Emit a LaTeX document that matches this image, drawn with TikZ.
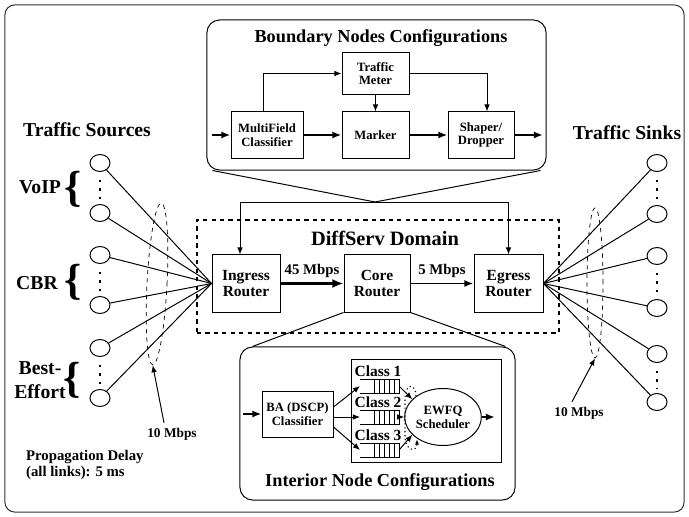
\documentclass[tikz,border=0pt]{standalone}
\usepackage{fontspec}
\setmainfont{Liberation Serif}
\usetikzlibrary{arrows.meta,shapes.geometric}

\tikzset{
  box/.style={draw, align=center, inner sep=0pt, font=\fontsize{9}{9.5}\selectfont\bfseries},
  router/.style={draw, align=center, inner sep=0pt, minimum width=1.7cm, minimum height=1.425cm,
    font=\fontsize{11}{12}\selectfont\bfseries},
  heading/.style={font=\fontsize{13}{15}\selectfont\bfseries},
  group/.style={font=\fontsize{14}{15}\selectfont\bfseries, align=center},
  curly/.style={font=\fontsize{31}{31}\selectfont\bfseries, inner sep=0pt},
  host/.style={draw, ellipse, inner sep=0pt, minimum width=0.5cm, minimum height=0.425cm},
  rate/.style={font=\fontsize{9.5}{11}\selectfont\bfseries},
  flow/.style={-{Latex[length=6.5pt,width=5pt]}, line width=1.3pt},
  bundle/.style={draw, dashed, ellipse, line width=0.5pt},
  vdots/.style={line width=1.6pt, dash pattern=on 1.6pt off 4.4pt},
}

\begin{document}
\begin{tikzpicture}[x=0.025cm, y=-0.025cm, line width=0.7pt, >={Latex[length=5pt,width=4pt]}]
  \useasboundingbox (0,0) rectangle (689,517);
  \node[draw=black!80, rounded corners=7pt, minimum width=16.975cm, minimum height=12.675cm] (frame) at (344.5,258.5) {};

  % boundary nodes
  \node[draw, rounded corners=9pt, minimum width=8.475cm, minimum height=3.75cm] (bnd) at (376.5,95) {};
  \node[heading] (bndtitle) at (381,38) {Boundary Nodes Configurations};
  \node[box, minimum width=1.675cm, minimum height=1.025cm] (meter) at (375.5,73.5) {Traffic\\Meter};
  \node[box, minimum width=1.8cm, minimum height=1.15cm] (mfc) at (267,135) {MultiField\\Classifier};
  \node[box, minimum width=1.675cm, minimum height=1.15cm] (marker) at (375.5,135) {Marker};
  \node[box, minimum width=1.65cm, minimum height=1.15cm] (shaper) at (481,135) {Shaper/\\Dropper};
  \coordinate (bin) at (212,135);
  \coordinate (bout) at (543,135);
  \draw[flow] (bin) -- (mfc);
  \draw[flow] (mfc) -- (marker);
  \draw[flow] (marker) -- (shaper);
  \draw[flow] (shaper) -- (bout);
  \draw[->] ([xshift=-0.1cm]mfc.north) |- (meter.west);
  \draw[->] (meter.east) -| ([xshift=0.15cm]shaper.north);
  \draw[->] (meter) -- (marker);

  % diffserv domain
  \node[draw, dashed, line width=1pt, minimum width=9.05cm, minimum height=2.825cm] (domain) at (378,276.5) {};
  \node[font=\fontsize{14.5}{16}\selectfont\bfseries] (domtitle) at (385,238) {DiffServ Domain};
  \node[router] (ingress) at (246,283.5) {Ingress\\Router};
  \node[router, minimum width=1.65cm] (core) at (377,283.5) {Core\\Router};
  \node[router, minimum width=1.725cm] (egress) at (508.5,283.5) {Egress\\Router};
  \draw[-{Latex[length=8pt,width=6.5pt]}, line width=2.2pt] (ingress) -- node[above, font=\fontsize{10.5}{12}\selectfont\bfseries] {45 Mbps} (core);
  \draw[flow] (core) -- node[above, font=\fontsize{10.5}{12}\selectfont\bfseries] {5 Mbps} (egress);

  \coordinate (bapex) at (375,202);
  \draw ([xshift=0.15cm]bnd.south west) -- (bapex) -- ([xshift=-0.15cm]bnd.south east);
  \draw[->] (bapex) -| ([xshift=-0.15cm]ingress.north);
  \draw[->] (bapex) -| (egress.north);

  % interior node
  \node[draw, rounded corners=9pt, minimum width=6.875cm, minimum height=3.825cm] (intr) at (377.5,423.5) {};
  \node[draw, minimum width=3.725cm, minimum height=2.55cm] (sched) at (426.5,411) {};
  \node[heading] (intrtitle) at (380,482) {Interior Node Configurations};
  \draw (core.south west) -- ([xshift=0.325cm]intr.north west);
  \draw (core.south east) -- ([xshift=-0.25cm]intr.north east);

  \node[box, minimum width=1.775cm, minimum height=1.15cm] (ba) at (297.5,414) {BA (DSCP)\\Classifier};
  \coordinate (iin) at (243,414);
  \draw[flow] (iin) -- (ba);

  \foreach \n/\c in {1/386,2/417,3/450} {
    \draw (360,\c-7) -- (399,\c-7) -- (399,\c+7) -- (360,\c+7);
    \foreach \b in {374,379,384,389,394}
      \draw (\b,\c-7) -- (\b,\c+7);
    \node[font=\fontsize{11}{12}\selectfont\bfseries] (cls\n) at (378,\c-15) {Class \n};
    \coordinate (qin\n) at (360,\c);
    \coordinate (qout\n) at (399,\c);
  }
  \node[draw, ellipse, inner sep=0pt, minimum width=1.55cm, minimum height=1.425cm, align=center,
    font=\fontsize{9}{10}\selectfont\bfseries] (ewfq) at (443,417) {EWFQ\\Scheduler};
  \draw[->] ([yshift=0.175cm]ba.east) -- (qin1);
  \draw[->] (ba.east |- qin2) -- (qin2);
  \draw[->] ([yshift=-0.325cm]ba.east) -- (qin3);
  \draw[->] (qout1) -- (ewfq.150);
  \draw[->] (qout2) -- (ewfq.west);
  \draw[->] (qout3) -- (ewfq.210);
  \draw[dotted, line width=0.8pt, -{Latex[length=4pt,width=3pt]}] (416,396) .. controls (416,383) and (405,383) .. (405,398)
    -- (405,436) .. controls (405,452) and (417,452) .. (417,439);
  \coordinate (iout) at (495,417);
  \draw[flow] (ewfq) -- (iout);

  % sources
  \node[group] (srctitle) at (87,130) {Traffic Sources};
  \foreach \i/\y in {1/163,2/213,3/255,4/305,5/348,6/398} {
    \node[host] (src\i) at (100,\y) {};
    \draw (src\i) -- (ingress.west);
  }
  \draw[vdots] ([yshift=-0.2cm]src1.south) -- ([yshift=0.1cm]src2.north);
  \draw[vdots] ([yshift=-0.2cm]src3.south) -- ([yshift=0.1cm]src4.north);
  \draw[vdots] ([yshift=-0.2cm]src5.south) -- ([yshift=0.1cm]src6.north);
  \node[group] (voip) at (40,187) {VoIP};
  \node[curly] (bvoip) at (73,189) {\{};
  \node[group] (cbr) at (37,283) {CBR};
  \node[curly] (bcbr) at (73,282) {\{};
  \node[group, font=\fontsize{14}{17}\selectfont\bfseries] (beff) at (40,380) {Best-\\Effort};
  \node[curly] (bbeff) at (72,380) {\{};

  \node[bundle, rotate=-3, minimum width=0.5cm, minimum height=4.05cm] (lbundle) at (157,284) {};
  \node[rate] (lrate) at (172,434) {10 Mbps};
  \draw[->] ([xshift=-0.2cm]lrate.north) -- (lbundle.south);

  % sinks
  \node[group] (snktitle) at (627,133) {Traffic Sinks};
  \foreach \i/\y in {1/163,2/214,3/256,4/308,5/354,6/402} {
    \node[host] (snk\i) at (657,\y) {};
    \draw (egress.east) -- (snk\i);
  }
  \draw[vdots] ([yshift=-0.2cm]snk1.south) -- ([yshift=0.1cm]snk2.north);
  \draw[vdots] ([yshift=-0.2cm]snk3.south) -- ([yshift=0.1cm]snk4.north);
  \draw[vdots] ([yshift=-0.2cm]snk5.south) -- ([yshift=0.1cm]snk6.north);

  \node[bundle, minimum width=0.4cm, minimum height=3.75cm] (rbundle) at (595,283) {};
  \node[rate] (rrate) at (579,413) {10 Mbps};
  \draw[->] ([xshift=-0.175cm]rrate.north) -- (rbundle.south);

  \node[align=left, anchor=west, font=\fontsize{10.5}{11.5}\selectfont\bfseries] (delay) at (21,465)
    {Propagation Delay\\(all links): 5 ms};
\end{tikzpicture}
\end{document}
